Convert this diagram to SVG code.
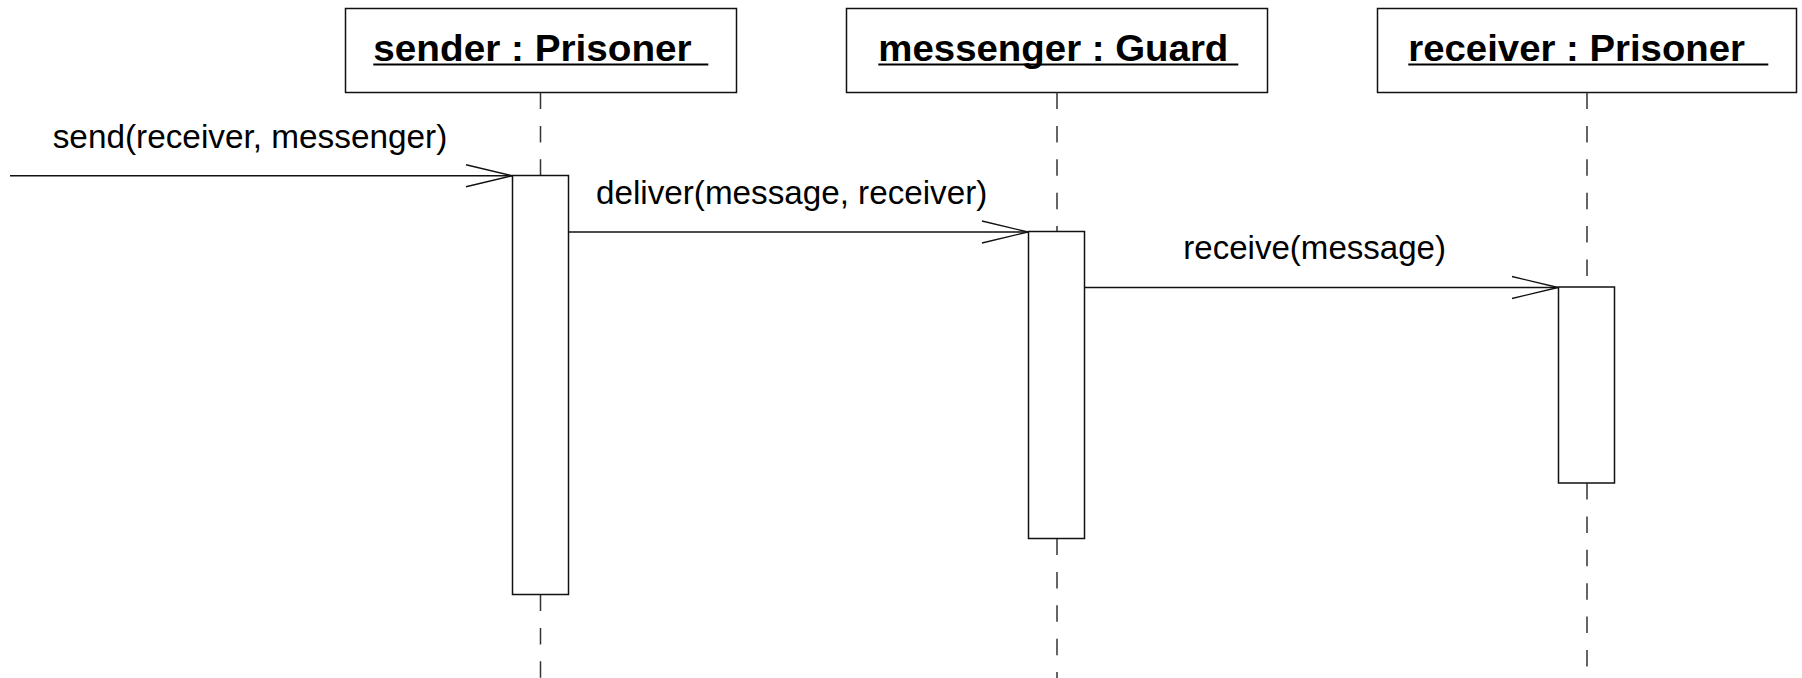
<svg xmlns="http://www.w3.org/2000/svg" width="1802" height="678" viewBox="0 0 1802 678">
<style>
.box{fill:#fff;stroke:#111;stroke-width:1.5}
.act{fill:#fff;stroke:#111;stroke-width:1.5}
.life{stroke:#333;stroke-width:1.5;stroke-dasharray:16.5 16.9;fill:none}
.msg{stroke:#111;stroke-width:1.4;fill:none;marker-end:url(#open)}
.title{font-family:"Liberation Sans",Arial,sans-serif;font-weight:bold;font-size:37px;fill:#000}
.ul{stroke:#000;stroke-width:2}
.lbl{font-family:"Liberation Sans",Arial,sans-serif;font-size:33px;fill:#000}
</style>
<defs>
<marker id="open" markerUnits="userSpaceOnUse" markerWidth="60" markerHeight="30" refX="50" refY="15" orient="auto" viewBox="0 0 60 30">
<path d="M4 4 L50 15 L4 26" fill="none" stroke="#111" stroke-width="1.4"/>
</marker>
</defs>
<g id="sender">
<rect class="box" x="345.5" y="8.5" width="391" height="84"/>
<text class="title" x="373.3" y="61" textLength="318.4" lengthAdjust="spacingAndGlyphs">sender : Prisoner</text>
<line class="ul" x1="373.3" y1="64.5" x2="708.3" y2="64.5"/>
<line class="life" x1="540.5" y1="92.5" x2="540.5" y2="175.5"/>
<line class="life" x1="540.5" y1="594.5" x2="540.5" y2="678"/>
<rect class="act" x="512.5" y="175.5" width="56" height="419"/>
</g>
<g id="messenger">
<rect class="box" x="846.5" y="8.5" width="421" height="84"/>
<text class="title" x="878.3" y="61" textLength="350" lengthAdjust="spacingAndGlyphs">messenger : Guard</text>
<line class="ul" x1="878.3" y1="64.5" x2="1238.3" y2="64.5"/>
<line class="life" x1="1057" y1="92.5" x2="1057" y2="231.5"/>
<line class="life" x1="1057" y1="538.5" x2="1057" y2="678"/>
<rect class="act" x="1028.5" y="231.5" width="56" height="307"/>
</g>
<g id="receiver">
<rect class="box" x="1377.5" y="8.5" width="419" height="84"/>
<text class="title" x="1408.3" y="61" textLength="336.7" lengthAdjust="spacingAndGlyphs">receiver : Prisoner</text>
<line class="ul" x1="1408.3" y1="64.5" x2="1768.3" y2="64.5"/>
<line class="life" x1="1587" y1="92.5" x2="1587" y2="287"/>
<line class="life" x1="1587" y1="483" x2="1587" y2="678"/>
<rect class="act" x="1558.5" y="287" width="56" height="196"/>
</g>
<g id="connectors">
<line class="msg" x1="10" y1="175.7" x2="512" y2="175.7"/>
<text class="lbl" x="52.7" y="147.5" textLength="394.6" lengthAdjust="spacingAndGlyphs">send(receiver, messenger)</text>
<line class="msg" x1="568.5" y1="232" x2="1028" y2="232"/>
<text class="lbl" x="596" y="203.5" textLength="391.3" lengthAdjust="spacingAndGlyphs">deliver(message, receiver)</text>
<line class="msg" x1="1084.5" y1="287.5" x2="1558" y2="287.5"/>
<text class="lbl" x="1183.3" y="258.5" textLength="262.7" lengthAdjust="spacingAndGlyphs">receive(message)</text>
</g>
</svg>
